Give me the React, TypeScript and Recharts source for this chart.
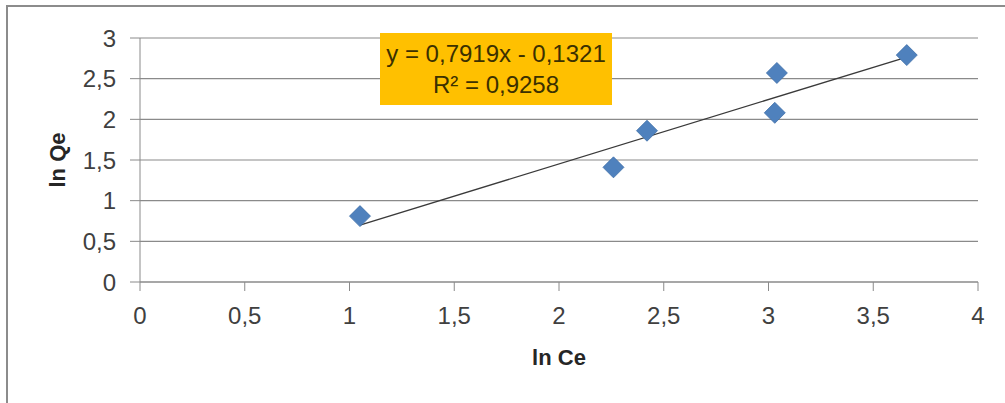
import React from 'react';
import {
  ScatterChart,
  Scatter,
  XAxis,
  YAxis,
  CartesianGrid,
  ReferenceLine,
  Label,
} from 'recharts';

const lnCe = [1.05, 2.26, 2.42, 3.03, 3.04, 3.66];
const lnQe = [0.81, 1.41, 1.86, 2.08, 2.57, 2.79];
const xTicks = [0, 0.5, 1, 1.5, 2, 2.5, 3, 3.5, 4];
const yTicks = [0, 0.5, 1, 1.5, 2, 2.5, 3];
const slope = 0.7919;
const intercept = -0.1321;
const rSquared = '0,9258';

const points = lnCe.map((x, i) => ({ x, y: lnQe[i] }));
const xMin = Math.min(...lnCe);
const xMax = Math.max(...lnCe);
const trend: [{ x: number; y: number }, { x: number; y: number }] = [
  { x: xMin, y: slope * xMin + intercept },
  { x: xMax, y: slope * xMax + intercept },
];

const FONT = '"Liberation Sans", Arial, sans-serif';
const GRID = '#8a8a8a';
const comma = (v: number) => String(v).replace('.', ',');

const Diamond = (props: any) => {
  const { cx, cy } = props;
  const r = 10.5;
  return (
    <polygon
      points={`${cx},${cy - r} ${cx + r},${cy} ${cx},${cy + r} ${cx - r},${cy}`}
      fill="#4f81bd"
      stroke="#3f6ea8"
      strokeWidth={0.8}
    />
  );
};

const YTitle = (props: any) => {
  const { viewBox } = props;
  const cx = 57;
  const cy = viewBox.y + viewBox.height / 2;
  return (
    <text
      x={cx}
      y={cy}
      transform={`rotate(-90 ${cx} ${cy})`}
      textAnchor="middle"
      dominantBaseline="central"
      fontFamily={FONT}
      fontWeight="bold"
      fontSize={22}
      fill="#262626"
    >
      ln Qe
    </text>
  );
};

const XTitle = (props: any) => {
  const { viewBox } = props;
  return (
    <text
      x={viewBox.x + viewBox.width / 2}
      y={357}
      textAnchor="middle"
      dominantBaseline="central"
      fontFamily={FONT}
      fontWeight="bold"
      fontSize={22}
      fill="#262626"
    >
      ln Ce
    </text>
  );
};

export default function App() {
  return (
    <div style={{ position: 'absolute', left: 0, top: 0, width: 1005, height: 403, background: '#fff', overflow: 'hidden' }}>
      <div
        style={{
          position: 'absolute',
          left: 6,
          top: 5,
          width: 1010,
          height: 410,
          borderTop: '2px solid #8c8c8c',
          borderLeft: '2px solid #8c8c8c',
        }}
      />
      <ScatterChart
        width={1005}
        height={403}
        margin={{ top: 38, right: 27, bottom: 0, left: 0 }}
        style={{ position: 'absolute', left: 0, top: 0 }}
      >
        <CartesianGrid horizontal vertical={false} stroke={GRID} strokeWidth={1.2} />
        <XAxis
          type="number"
          dataKey="x"
          domain={[0, 4]}
          ticks={xTicks}
          interval={0}
          tickFormatter={comma}
          height={121}
          tickSize={9}
          tickMargin={16}
          stroke={GRID}
          tick={{ fontFamily: FONT, fontSize: 24, fill: '#404040' }}
        >
          <Label content={<XTitle />} />
        </XAxis>
        <YAxis
          type="number"
          dataKey="y"
          domain={[0, 3]}
          ticks={yTicks}
          interval={0}
          tickFormatter={comma}
          width={140}
          tickSize={10}
          tickMargin={14}
          stroke={GRID}
          tick={{ fontFamily: FONT, fontSize: 24, fill: '#404040' }}
        >
          <Label content={<YTitle />} />
        </YAxis>
        <ReferenceLine segment={trend} stroke="#3a3a3a" strokeWidth={1.3} ifOverflow="visible" />
        <Scatter data={points} shape={<Diamond />} isAnimationActive={false} />
      </ScatterChart>
      <div
        style={{
          position: 'absolute',
          left: 380,
          top: 33,
          width: 232,
          height: 72,
          background: '#ffc000',
          fontFamily: FONT,
          fontSize: 24,
          lineHeight: '31px',
          color: '#3b3000',
          textAlign: 'center',
          paddingTop: 5,
          boxSizing: 'border-box',
          whiteSpace: 'nowrap',
        }}
      >
        <div>y = {comma(slope)}x - {comma(-intercept)}</div>
        <div>R² = {rSquared}</div>
      </div>
    </div>
  );
}
